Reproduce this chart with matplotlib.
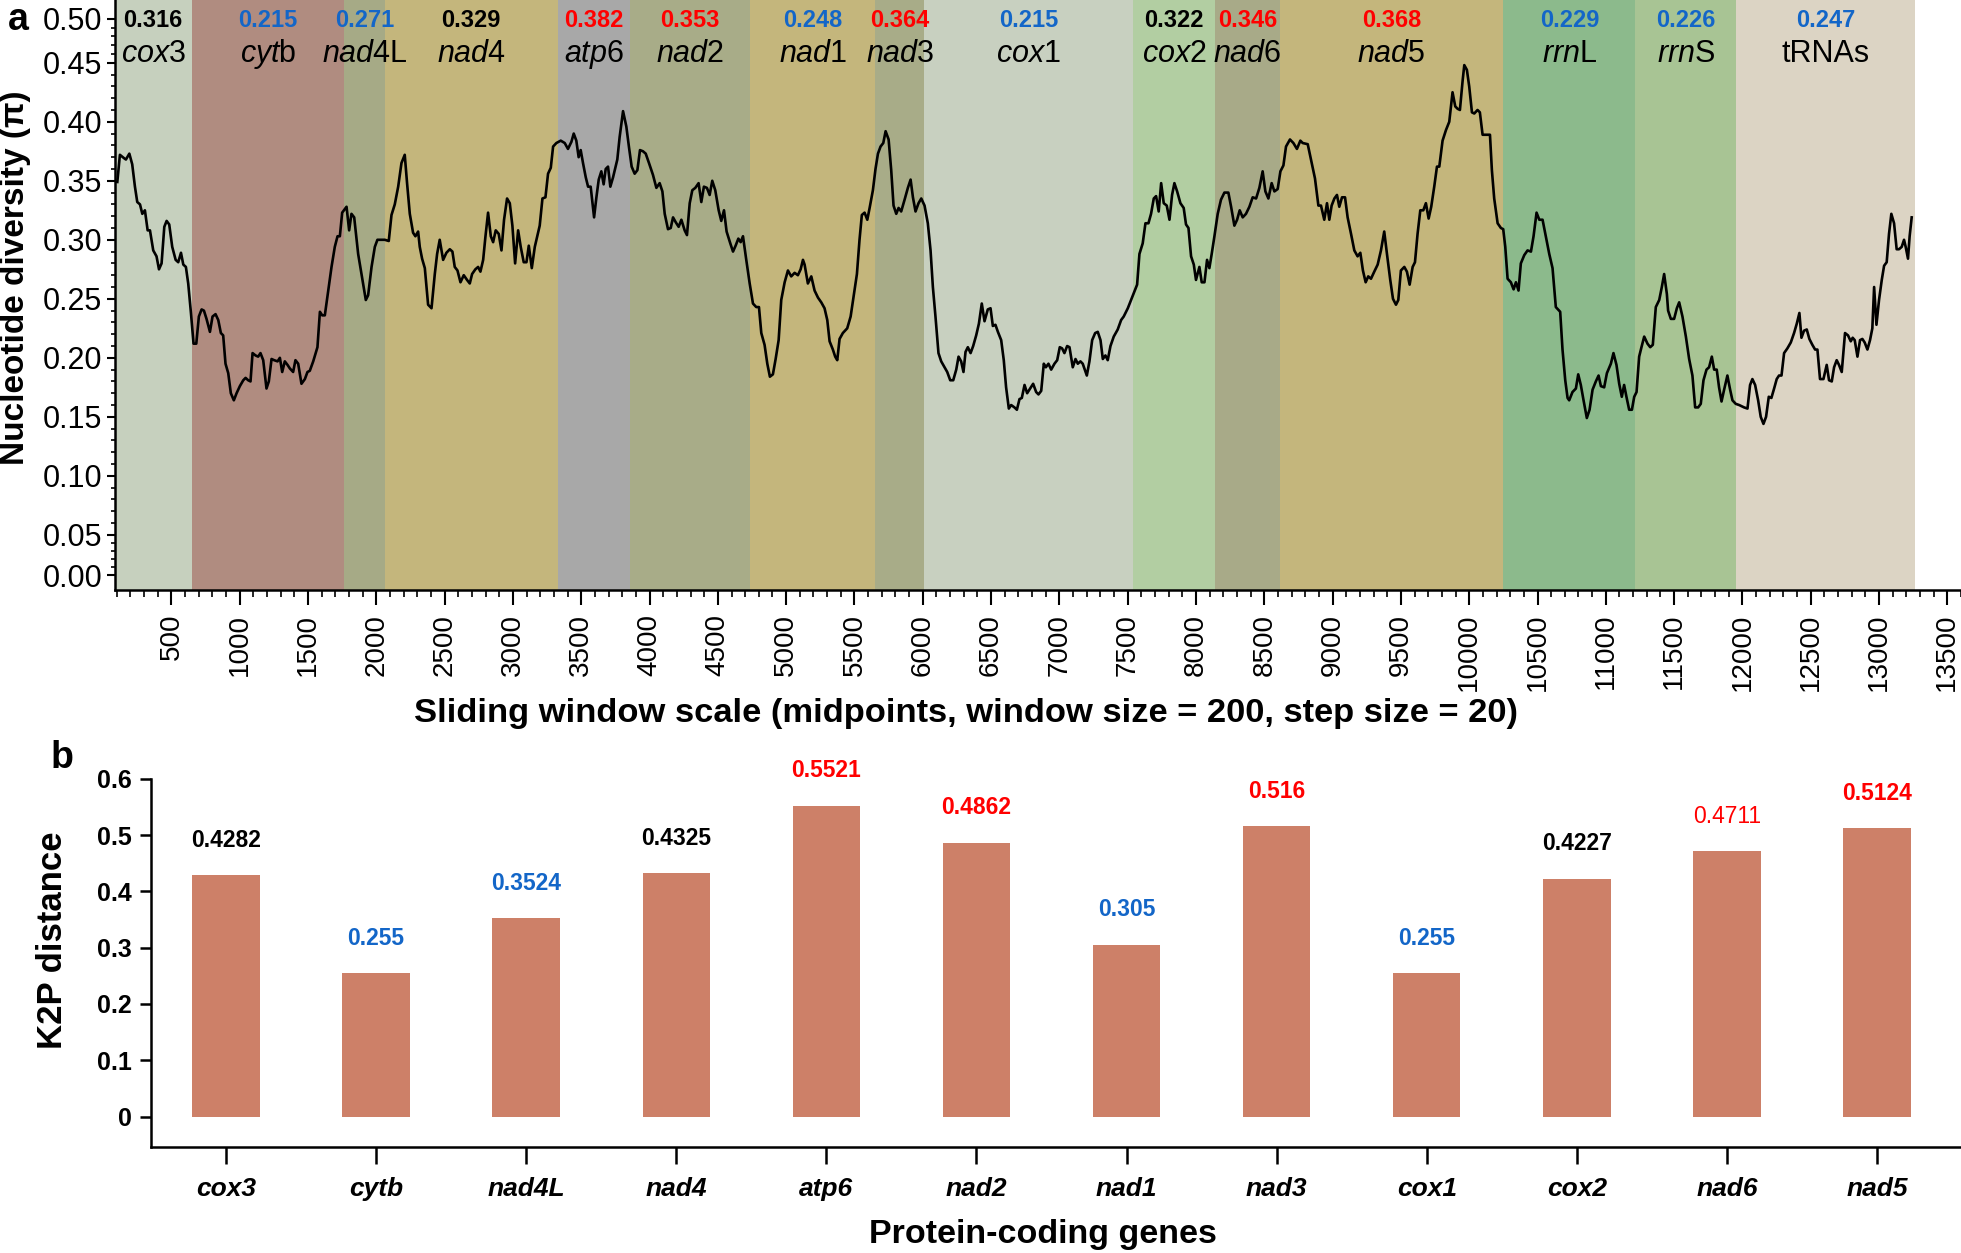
import matplotlib
matplotlib.use('Agg')
import matplotlib.pyplot as plt
import numpy as np
from matplotlib.ticker import MultipleLocator, FixedLocator

plt.rcParams['font.family'] = ['Liberation Sans', 'DejaVu Sans']
plt.rcParams['mathtext.fontset'] = 'custom'
plt.rcParams['mathtext.rm'] = 'Liberation Sans'
plt.rcParams['mathtext.it'] = 'Liberation Sans:italic'

NARROW = ['Liberation Sans Narrow', 'Liberation Sans', 'DejaVu Sans']

# ---- panel a: sliding window nucleotide diversity ----
window_mid = [
    104, 123, 155, 167, 192, 213, 233, 250, 270, 287, 306, 326, 343, 367, 391, 409, 428, 448, 465, 484,
    506, 531, 550, 570, 587, 606, 623, 643, 662, 682, 701, 721, 738, 757, 782, 801, 823, 843, 862, 879,
    896, 916, 935, 957, 977, 1001, 1026, 1043, 1062, 1079, 1094, 1116, 1135, 1152, 1172, 1196, 1213, 1233, 1252, 1277,
    1294, 1311, 1330, 1350, 1367, 1391, 1408, 1428, 1452, 1477, 1496, 1513, 1538, 1569, 1587, 1604, 1623, 1647, 1672, 1696,
    1716, 1733, 1750, 1782, 1801, 1818, 1838, 1867, 1899, 1923, 1940, 1965, 1989, 2008, 2038, 2062, 2091, 2111, 2135, 2160,
    2184, 2208, 2225, 2245, 2269, 2286, 2306, 2318, 2335, 2355, 2379, 2404, 2428, 2445, 2464, 2489, 2513, 2538, 2557, 2574,
    2594, 2616, 2640, 2664, 2684, 2701, 2725, 2745, 2762, 2782, 2799, 2818, 2838, 2855, 2874, 2896, 2916, 2935, 2957, 2977,
    2996, 3016, 3038, 3057, 3079, 3099, 3116, 3138, 3160, 3196, 3216, 3238, 3257, 3277, 3294, 3318, 3350, 3379, 3403, 3428,
    3445, 3464, 3481, 3496, 3513, 3533, 3550, 3569, 3594, 3611, 3628, 3647, 3664, 3679, 3696, 3713, 3733, 3764, 3781, 3806,
    3830, 3850, 3869, 3891, 3911, 3930, 3952, 3972, 3996, 4025, 4050, 4074, 4094, 4111, 4135, 4155, 4172, 4191, 4213, 4233,
    4257, 4274, 4294, 4313, 4335, 4359, 4379, 4398, 4420, 4440, 4459, 4481, 4506, 4525, 4545, 4564, 4591, 4611, 4630, 4650,
    4667, 4684, 4708, 4733, 4757, 4781, 4801, 4818, 4842, 4862, 4881, 4903, 4923, 4945, 4964, 4989, 5013, 5037, 5062, 5086,
    5106, 5123, 5135, 5159, 5184, 5208, 5233, 5257, 5281, 5301, 5318,
    5342, 5359, 5374, 5391, 5415, 5447, 5472, 5496, 5518, 5537, 5554, 5574, 5594, 5611, 5635, 5654, 5672, 5691, 5711, 5728,
    5750, 5769, 5786, 5806, 5823, 5842, 5867, 5891, 5911, 5928, 5947, 5969, 5989, 6013, 6037, 6057, 6074, 6093, 6115, 6135,
    6159, 6179, 6201, 6223, 6245, 6262, 6281, 6298, 6313, 6330, 6350, 6369, 6391, 6411, 6432, 6452, 6476, 6496, 6513, 6532,
    6550, 6574, 6593, 6610, 6630, 6647, 6671, 6689, 6708, 6725, 6745, 6764, 6786, 6808, 6830, 6847, 6867, 6886, 6901, 6920,
    6940, 6964, 6984, 7003, 7020, 7037, 7057, 7074, 7098, 7118, 7135, 7154, 7171, 7201, 7220, 7240, 7262, 7281, 7301, 7318,
    7337, 7354, 7374, 7398, 7427, 7452, 7471, 7501, 7525, 7569, 7586, 7610, 7630, 7652, 7671, 7691, 7708, 7727, 7745, 7764,
    7786, 7806, 7825, 7842, 7862, 7886, 7910, 7927, 7945, 7964, 7984, 8000, 8025,
    8042, 8062, 8081, 8098, 8115, 8135, 8159, 8183, 8208, 8237, 8257, 8281, 8301, 8320, 8342, 8366, 8391, 8415, 8440, 8464,
    8488, 8508, 8530, 8554, 8574, 8598, 8618, 8640, 8659, 8688, 8713, 8739, 8764, 8781, 8818, 8842, 8871, 8896, 8915, 8939,
    8959, 8976, 8993, 9013, 9032, 9049, 9069, 9091, 9110, 9135, 9159, 9183, 9203, 9222, 9242, 9261, 9281, 9305, 9330, 9354,
    9378, 9398, 9422, 9442, 9464, 9481, 9500, 9525, 9544, 9564, 9586, 9603, 9622, 9642, 9664, 9683, 9703, 9722, 9744, 9764,
    9781, 9805, 9830, 9854, 9878, 9898, 9915, 9932, 9952, 9964, 9983, 10000, 10020, 10037, 10061, 10078, 10098, 10130, 10152, 10166,
    10183, 10208, 10232, 10249, 10264, 10281, 10305, 10325, 10342, 10361, 10378, 10403, 10427, 10452, 10471, 10493, 10513, 10537, 10561, 10586,
    10610, 10634, 10666, 10683, 10703, 10720,
    10732, 10756, 10781, 10798, 10817, 10837, 10861, 10881, 10903, 10927, 10947, 10964, 10988, 11008, 11037, 11056, 11078, 11098, 11117, 11134,
    11151, 11171, 11191, 11208, 11225, 11244, 11261, 11281, 11305, 11325, 11344, 11366, 11391, 11410, 11427, 11447, 11456, 11476, 11500, 11520,
    11537, 11561, 11586, 11610, 11634, 11654, 11676, 11695, 11715, 11737, 11756, 11776, 11793, 11812, 11829, 11847, 11866, 11890, 11910, 11927,
    11951, 11976, 12012, 12037, 12056, 12073, 12093, 12115, 12134, 12154, 12173, 12193, 12212, 12232, 12251, 12268, 12286, 12305, 12329, 12354,
    12378, 12398, 12417, 12432, 12451, 12471, 12490, 12512, 12532, 12549, 12568, 12593, 12617, 12634, 12654, 12671, 12690, 12707, 12727, 12751,
    12773, 12793, 12807, 12822, 12842, 12861, 12878, 12895, 12915, 12934, 12951, 12964, 12981, 13000, 13020, 13037, 13056, 13073, 13090, 13110,
    13129, 13146, 13166, 13183, 13195, 13212, 13224, 13239,
]
pi_values = [
    .349, .372, .369, .368, .373, .364, .345, .332, .330, .322, .325, .308, .308, .291, .286, .275, .280, .311, .316, .313,
    .294, .283, .281, .289, .279, .277, .263, .238, .212, .212, .235, .241, .240, .233, .222, .235, .237, .232, .221, .219,
    .195, .187, .170, .164, .170, .176, .181, .183, .181, .180, .204, .202, .201, .204, .198, .174, .180, .199, .198, .197,
    .200, .188, .197, .194, .191, .188, .198, .195, .178, .182, .188, .189, .197, .209, .239, .236, .236, .256, .277, .294,
    .303, .303, .323, .328, .308, .322, .319, .288, .266, .249, .253, .277, .294, .300, .300, .300, .299, .321, .330, .345,
    .365, .372, .348, .322, .306, .303, .307, .294, .284, .276, .245, .242, .271, .288, .300, .283, .289, .292, .290, .277,
    .274, .264, .270, .266, .263, .271, .275, .277, .273, .283, .303, .323, .303, .298, .308, .305, .291, .317, .335, .331,
    .312, .280, .308, .294, .281, .281, .295, .276, .294, .312, .335, .336, .356, .361, .379, .382, .384, .382, .377, .383,
    .390, .384, .370, .376, .365, .353, .345, .345, .319, .336, .351, .358, .347, .360, .362, .345, .353, .368, .387, .409,
    .396, .378, .362, .356, .359, .376, .375, .373, .365, .355, .344, .348, .341, .322, .309, .310, .319, .315, .311, .317,
    .308, .304, .331, .342, .344, .348, .332, .345, .344, .338, .350, .342, .325, .316, .325, .307, .297, .290, .295, .301,
    .298, .303, .283, .263, .246, .243, .243, .221, .211, .195, .184, .186, .199, .215, .249, .264, .274, .269, .272, .270,
    .275, .283, .279, .263, .269, .257, .251, .247, .242, .232, .214,
    .207, .201, .198, .216, .221, .225, .235, .254, .271, .300, .321, .323, .317, .327, .342, .360, .373, .379, .382, .392,
    .385, .359, .329, .322, .327, .324, .334, .344, .351, .336, .324, .331, .335, .329, .314, .291, .260, .235, .204, .197,
    .192, .188, .181, .181, .190, .201, .197, .188, .205, .209, .204, .210, .219, .229, .246, .231, .241, .242, .227, .228,
    .222, .215, .198, .175, .157, .160, .158, .156, .165, .166, .177, .170, .174, .178, .171, .169, .172, .195, .192, .195,
    .190, .195, .198, .209, .208, .204, .210, .209, .192, .199, .195, .197, .195, .185, .197, .215, .221, .222, .215, .199,
    .202, .198, .210, .218, .224, .232, .235, .242, .249, .262, .288, .297, .314, .314, .322, .335, .337, .324, .348, .331,
    .329, .317, .338, .348, .341, .331, .327, .313, .310, .286, .279, .266, .277,
    .264, .264, .283, .276, .288, .303, .322, .334, .340, .340, .328, .312, .317, .325, .319, .322, .328, .336, .335, .344,
    .358, .341, .335, .348, .341, .343, .358, .363, .379, .385, .382, .377, .384, .382, .381, .368, .352, .329, .329, .317,
    .331, .317, .329, .335, .338, .328, .336, .336, .319, .305, .291, .286, .289, .274, .264, .269, .267, .273, .279, .291,
    .307, .288, .266, .250, .245, .249, .274, .277, .273, .262, .277, .281, .305, .325, .325, .331, .318, .328, .345, .362,
    .362, .384, .393, .400, .425, .413, .411, .410, .435, .448, .444, .430, .408, .407, .410, .408, .389, .389, .389, .359,
    .335, .314, .310, .309, .294, .267, .264, .258, .264, .257, .280, .287, .291, .290, .303, .323, .317, .317, .303, .288,
    .276, .243, .239, .207, .181, .166,
    .164, .171, .174, .186, .177, .164, .149, .156, .173, .180, .185, .176, .175, .187, .195, .204, .194, .178, .167, .177,
    .167, .156, .156, .167, .171, .201, .209, .218, .212, .209, .211, .243, .249, .260, .271, .254, .240, .233, .233, .242,
    .247, .235, .218, .199, .185, .158, .158, .161, .181, .190, .192, .201, .190, .190, .175, .163, .173, .185, .173, .164,
    .161, .160, .158, .157, .177, .182, .177, .164, .150, .144, .150, .167, .166, .174, .182, .185, .185, .204, .208, .213,
    .221, .229, .238, .217, .223, .224, .216, .211, .207, .207, .182, .182, .194, .181, .180, .192, .198, .194, .188, .221,
    .219, .214, .217, .215, .201, .215, .216, .213, .207, .215, .225, .260, .228, .249, .266, .278, .281, .305, .322, .314,
    .292, .292, .294, .300, .294, .284, .303, .319,
]

regions = ['cox3', 'cytb', 'nad4L', 'nad4', 'atp6', 'nad2', 'nad1', 'nad3', 'cox1', 'cox2',
           'nad6', 'nad5', 'rrnL', 'rrnS', 'tRNAs']
region_edges = [85, 648, 1767, 2060, 3330, 3857, 4738, 5654, 6011, 7537,
                8140, 8615, 10251, 11215, 11954, 13263]
region_pi = ['0.316', '0.215', '0.271', '0.329', '0.382', '0.353', '0.248', '0.364', '0.215', '0.322',
             '0.346', '0.368', '0.229', '0.226', '0.247']
region_labels = [r'$\mathit{cox3}$', r'$\mathit{cyt}$b', r'$\mathit{nad}$4L', r'$\mathit{nad4}$',
                 r'$\mathit{atp6}$', r'$\mathit{nad2}$', r'$\mathit{nad}$1', r'$\mathit{nad3}$',
                 r'$\mathit{cox}$1', r'$\mathit{cox}$2', r'$\mathit{nad6}$', r'$\mathit{nad5}$',
                 r'$\mathit{rrn}$L', r'$\mathit{rrn}$S', 'tRNAs']
region_colors = ['#c6d0be', '#b08c80', '#a6aa86', '#c4b67c', '#a8a8a8', '#a8ac88', '#c4b67c',
                 '#a8ac88', '#c8d0c0', '#b2cea2', '#a8aa88', '#c4b67c', '#8cba8c', '#a8c494', '#dcd4c4']

BLACK, BLUE, RED = '#000000', '#1366c8', '#ff0000'
region_pi_colors = [BLACK, BLUE, BLUE, BLACK, RED, RED, BLUE, RED, BLUE, BLACK, RED, RED, BLUE, BLUE, BLUE]

# ---- panel b: K2P distance ----
genes = ['cox3', 'cytb', 'nad4L', 'nad4', 'atp6', 'nad2', 'nad1', 'nad3', 'cox1', 'cox2', 'nad6', 'nad5']
k2p = [0.4282, 0.255, 0.3524, 0.4325, 0.5521, 0.4862, 0.305, 0.516, 0.255, 0.4227, 0.4711, 0.5124]
k2p_text = ['0.4282', '0.255', '0.3524', '0.4325', '0.5521', '0.4862', '0.305', '0.516', '0.255',
            '0.4227', '0.4711', '0.5124']
k2p_colors = [BLACK, BLUE, BLUE, BLACK, RED, RED, BLUE, RED, BLUE, BLACK, RED, RED]
k2p_weights = ['bold'] * 10 + ['normal', 'bold']

# piecewise y scale: first and last 0.05 steps are drawn shorter in the original
Y_KNOTS = [-1.0, 0.0, 0.05, 0.45, 0.5, 2.0]
P_KNOTS = [-806.0, 0.0, 40.3, 512.3, 556.3, 1876.3]


def fwd(v):
    return np.interp(np.asarray(v, dtype=float), Y_KNOTS, P_KNOTS)


def inv(p):
    return np.interp(np.asarray(p, dtype=float), P_KNOTS, Y_KNOTS)


fig = plt.figure(figsize=(19.61, 12.53), dpi=100)

ax1 = fig.add_axes([0.0585, 0.529, 0.9415, 0.471])
ax1.set_yscale('function', functions=(fwd, inv))
ax1.set_xlim(85, 13600)
ax1.set_ylim(-0.0186, 0.5213)

for i in range(len(regions)):
    ax1.axvspan(region_edges[i], region_edges[i + 1], color=region_colors[i], lw=0, zorder=0)
    xc = (region_edges[i] + region_edges[i + 1]) / 2
    ax1.text(xc, 0.966, region_pi[i], transform=ax1.get_xaxis_transform(), ha='center', va='center',
             fontsize=17, fontweight='bold', color=region_pi_colors[i], family=NARROW)
    ax1.text(xc, 0.908, region_labels[i], transform=ax1.get_xaxis_transform(), ha='center', va='center',
             fontsize=22, color='black')

ax1.plot(window_mid, pi_values, color='black', lw=1.9, zorder=3)

ax1.spines['top'].set_visible(False)
ax1.spines['right'].set_visible(False)
for s in ['left', 'bottom']:
    ax1.spines[s].set_linewidth(1.8)

ax1.yaxis.set_major_locator(FixedLocator([0, 0.05, 0.1, 0.15, 0.2, 0.25, 0.3, 0.35, 0.4, 0.45, 0.5]))
ax1.yaxis.set_minor_locator(FixedLocator(np.round(np.arange(0, 0.505, 0.01), 2)))
ax1.set_yticklabels(['%.2f' % t for t in [0, 0.05, 0.1, 0.15, 0.2, 0.25, 0.3, 0.35, 0.4, 0.45, 0.5]])
ax1.xaxis.set_major_locator(MultipleLocator(500))
ax1.xaxis.set_minor_locator(MultipleLocator(100))
ax1.tick_params(axis='y', which='major', length=6, width=1.5, labelsize=22, pad=3)
ax1.tick_params(axis='y', which='minor', length=3, width=1.2)
ax1.tick_params(axis='x', which='major', length=11, width=1.5, labelsize=20, labelrotation=90, pad=6)
ax1.tick_params(axis='x', which='minor', length=5, width=1.2)

fig.text(0.004, 0.984, 'a', fontsize=27, fontweight='bold', ha='left', va='center')
fig.text(0.0, 0.778, 'Nucleotide diversity (π)', fontsize=24, fontweight='bold', rotation=90,
         ha='left', va='center')
fig.text(0.4926, 0.4305, 'Sliding window scale (midpoints, window size = 200, step size = 20)',
         fontsize=24.8, fontweight='bold', ha='center', va='center')

# ---- panel b ----
ax2 = fig.add_axes([0.077, 0.0842, 0.923, 0.2943])
xpos = np.arange(len(genes))
ax2.bar(xpos, k2p, width=0.45, color='#cd8068', zorder=2)
for i in range(len(genes)):
    ax2.text(xpos[i], k2p[i] + 0.062, k2p_text[i], ha='center', va='center', fontsize=16.5,
             color=k2p_colors[i], fontweight=k2p_weights[i], family=NARROW, clip_on=False)
ax2.set_xlim(-0.5, 11.56)
ax2.set_ylim(-0.055, 0.6)
ax2.spines['top'].set_visible(False)
ax2.spines['right'].set_visible(False)
ax2.spines['left'].set_bounds(-0.055, 0.6)
for s in ['left', 'bottom']:
    ax2.spines[s].set_linewidth(1.8)
ax2.set_yticks([0, 0.1, 0.2, 0.3, 0.4, 0.5, 0.6])
ax2.set_yticklabels(['0', '0.1', '0.2', '0.3', '0.4', '0.5', '0.6'], fontweight='bold', family=NARROW)
ax2.set_xticks(xpos)
ax2.set_xticklabels(genes, fontstyle='italic', fontweight='bold', family=NARROW)
ax2.tick_params(axis='y', length=8, width=1.8, labelsize=18, pad=6)
ax2.tick_params(axis='x', length=12, width=1.8, labelsize=19, pad=9)

fig.text(0.026, 0.3954, 'b', fontsize=27, fontweight='bold', ha='left', va='center')
fig.text(0.0268, 0.25, 'K2P distance', fontsize=25, fontweight='bold', rotation=90, ha='center', va='center')
fig.text(0.532, 0.0144, 'Protein-coding genes', fontsize=24.5, fontweight='bold', ha='center', va='center')

fig.savefig('out.png', dpi=100)
